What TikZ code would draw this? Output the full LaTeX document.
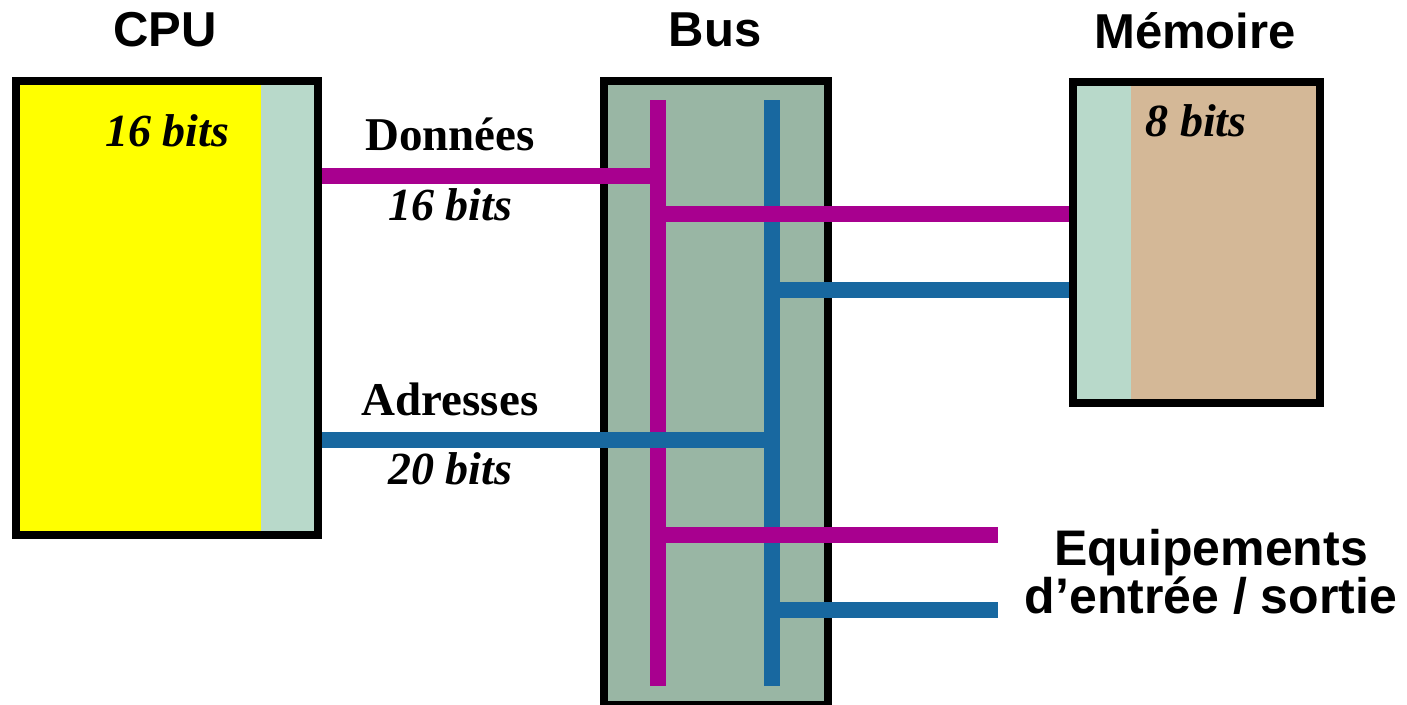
\documentclass[tikz,border=0pt]{standalone}
\usepackage{fontspec}
\setmainfont{Liberation Serif}
\setsansfont{Liberation Sans}
\definecolor{cpuyellow}{HTML}{FFFF00}
\definecolor{portgreen}{HTML}{B8D9CA}
\definecolor{busgreen}{HTML}{99B6A4}
\definecolor{memtan}{HTML}{D4B897}
\definecolor{datapurple}{HTML}{A8008F}
\definecolor{addrblue}{HTML}{1868A0}
\begin{document}
\begin{tikzpicture}[x=1pt,y=-1pt,
  box/.style={draw=black, line width=8pt, inner sep=0pt},
  pline/.style={draw=datapurple, line width=16pt, line cap=butt},
  bline/.style={draw=addrblue, line width=16pt, line cap=butt},
  title/.style={font=\sffamily\bfseries\fontsize{49}{50}\selectfont, inner sep=0pt},
  lbl/.style={font=\bfseries\fontsize{47}{48}\selectfont, inner sep=0pt},
  bits/.style={font=\bfseries\itshape\fontsize{46}{48}\selectfont, inner sep=0pt}]
\useasboundingbox (0,0) rectangle (1407,704);

% boxes
\node[box, fill=busgreen, minimum width=224pt, minimum height=624pt] (bus) at (716,393) {};
\node[box, fill=cpuyellow, minimum width=302pt, minimum height=454pt,
  path picture={\fill[portgreen] ([xshift=-57pt]path picture bounding box.north east) rectangle (path picture bounding box.south east);}]
  (cpu) at (167,308) {};
\node[box, fill=memtan, minimum width=247pt, minimum height=321pt,
  path picture={\fill[portgreen] (path picture bounding box.north west) rectangle ([xshift=58pt]path picture bounding box.south west);}]
  (mem) at (1196.5,242.5) {};

% bus lines
\coordinate (ptop) at (658,100);
\coordinate (pbot) at (658,686);
\coordinate (btop) at (771.5,100);
\coordinate (bbot) at (771.5,686);
\coordinate (ioP) at (998,535);
\coordinate (ioB) at (998,610);
\draw[pline] (ptop) -- (pbot);
\draw[bline] (btop) -- (bbot);

\draw[pline] (cpu.east |- 0,175.5) -- (ptop |- 0,175.5);
\draw[pline] (ptop |- 0,213.5) -- (mem.west |- 0,213.5);
\draw[bline] (btop |- 0,290) -- (mem.west |- 0,290);
\draw[bline] (cpu.east |- 0,440) -- (btop |- 0,440);
\draw[pline] (ptop |- ioP) -- (ioP);
\draw[bline] (btop |- ioB) -- (ioB);

% titles
\node[title, anchor=base] (tcpu) at (165,46) {CPU};
\node[title, anchor=base] (tbus) at (715,46) {Bus};
\node[title, anchor=base] (tmem) at (1195,48) {Mémoire};

% labels
\node[bits, anchor=base] (cpubits) at (167,146) {16 bits};
\node[bits, anchor=base] (membits) at (1196,136) {8 bits};
\node[lbl, anchor=base] (ldata) at (450,150) {Données};
\node[bits, anchor=base] (ldatab) at (450,220) {16 bits};
\node[lbl, anchor=base] (laddr) at (450,415) {Adresses};
\node[bits, anchor=base] (laddrb) at (450,484) {20 bits};
\node[font=\sffamily\bfseries\fontsize{50}{48}\selectfont, align=center, inner sep=0pt, anchor=base] (io) at (1211,613) {Equipements\\d’entrée / sortie};
\end{tikzpicture}
\end{document}
